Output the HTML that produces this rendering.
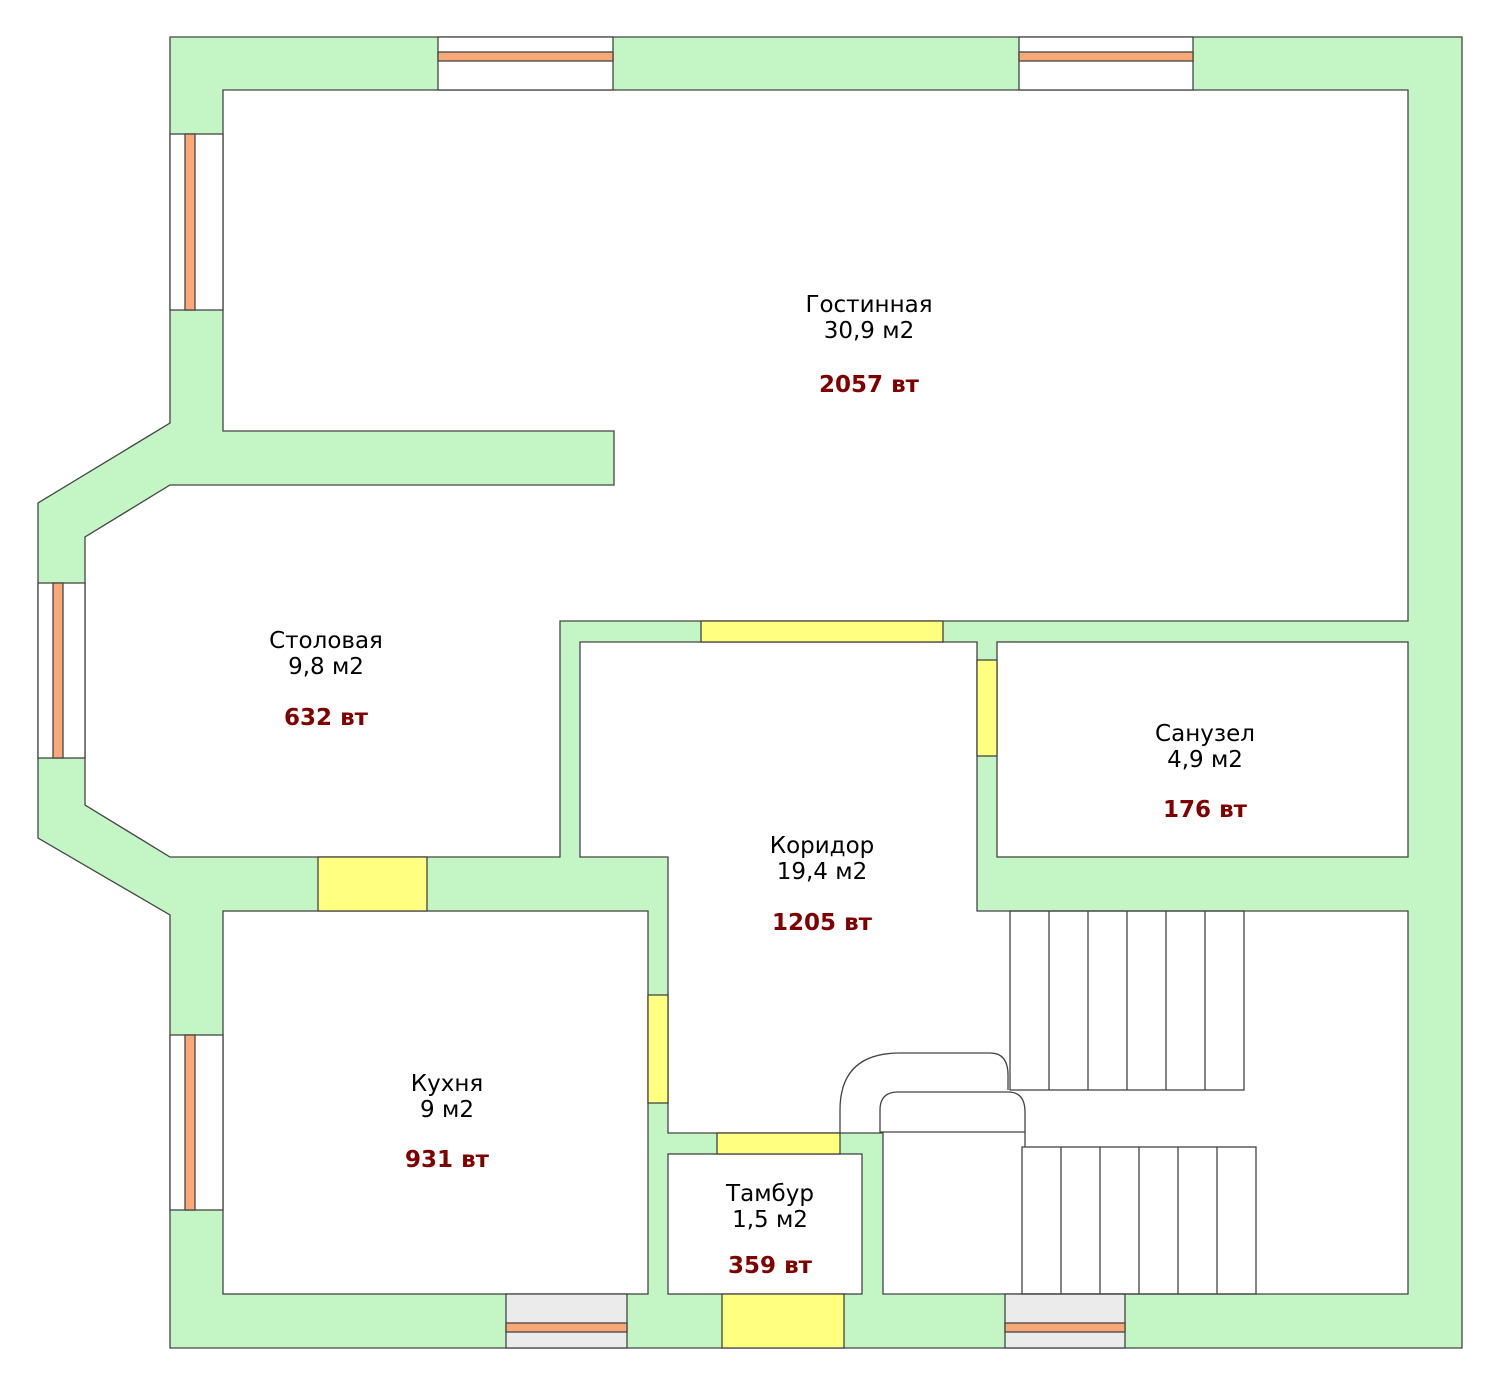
<!DOCTYPE html>
<html><head><meta charset="utf-8"><style>html,body{margin:0;padding:0;background:#fff}svg{display:block}</style></head><body>
<svg width="1500" height="1385" viewBox="0 0 1500 1385" xmlns="http://www.w3.org/2000/svg">
<g stroke="#444" stroke-width="1.3">
<polygon points="170,37 1462,37 1462,1348 170,1348 170,915 38,838 38,503 170,423" fill="#c4f5c5"/>
<polygon points="223,90 1408,90 1408,621 560,621 560,857 170,857 85,805 85,537 170,485 614,485 614,431 223,431" fill="#fff"/>
<polygon points="580,642 977,642 977,911 1408,911 1408,1294 883,1294 883,1133 668,1133 668,857 580,857" fill="#fff"/>
<rect x="997" y="642" width="411" height="215" fill="#fff"/>
<rect x="223" y="911" width="425" height="383" fill="#fff"/>
<rect x="668" y="1154" width="194" height="140" fill="#fff"/>
<g fill="#ffff80">
<rect x="701" y="621" width="242" height="21"/>
<rect x="977" y="660" width="20" height="96"/>
<rect x="318" y="857" width="109" height="54"/>
<rect x="648" y="995" width="20" height="108"/>
<rect x="717" y="1133" width="123" height="21"/>
<rect x="722" y="1294" width="122" height="54"/>
</g>
<rect x="438" y="37" width="175" height="53" fill="#fff"/>
<rect x="438" y="52" width="175" height="9" fill="#f9a877"/>
<rect x="1019" y="37" width="174" height="53" fill="#fff"/>
<rect x="1019" y="52" width="174" height="9" fill="#f9a877"/>
<rect x="170" y="134" width="53" height="176" fill="#fff"/>
<rect x="185" y="134" width="10" height="176" fill="#f9a877"/>
<rect x="170" y="1035" width="53" height="175" fill="#fff"/>
<rect x="185" y="1035" width="10" height="175" fill="#f9a877"/>
<rect x="38" y="583" width="47" height="175" fill="#fff"/>
<rect x="53" y="583" width="10" height="175" fill="#f9a877"/>
<rect x="506" y="1294" width="121" height="54" fill="#ebebeb"/>
<rect x="506" y="1323" width="121" height="9" fill="#f9a877"/>
<rect x="1005" y="1294" width="120" height="54" fill="#ebebeb"/>
<rect x="1005" y="1323" width="120" height="9" fill="#f9a877"/>
<g fill="none">
<rect x="1010" y="911" width="234" height="179"/>
<path d="M1049,911V1090M1088,911V1090M1127,911V1090M1166,911V1090M1205,911V1090"/>
<rect x="1022" y="1147" width="234" height="147"/>
<path d="M1061,1147V1294M1100,1147V1294M1139,1147V1294M1178,1147V1294M1217,1147V1294"/>
<path d="M840,1133V1110Q840,1053 900,1053H990Q1008,1053 1008,1075V1090"/>
<path d="M880,1133V1110Q880,1092 898,1092H1008Q1025,1092 1025,1112V1147"/>
<path d="M880,1132H1025"/>
</g>
</g>
<g font-family="'DejaVu Sans','Liberation Sans',sans-serif" font-size="23" text-anchor="middle" fill="#000">
<text x="869" y="312">Гостинная</text><text x="869" y="338">30,9 м2</text>
<text x="869" y="392" fill="#800000" font-weight="bold">2057 вт</text>
<text x="326" y="648">Столовая</text><text x="326" y="674">9,8 м2</text>
<text x="326" y="725" fill="#800000" font-weight="bold">632 вт</text>
<text x="1205" y="741">Санузел</text><text x="1205" y="767">4,9 м2</text>
<text x="1205" y="817" fill="#800000" font-weight="bold">176 вт</text>
<text x="822" y="853">Коридор</text><text x="822" y="879">19,4 м2</text>
<text x="822" y="930" fill="#800000" font-weight="bold">1205 вт</text>
<text x="447" y="1091">Кухня</text><text x="447" y="1117">9 м2</text>
<text x="447" y="1167" fill="#800000" font-weight="bold">931 вт</text>
<text x="770" y="1201">Тамбур</text><text x="770" y="1227">1,5 м2</text>
<text x="770" y="1273" fill="#800000" font-weight="bold">359 вт</text>
</g>
</svg>
</body></html>
